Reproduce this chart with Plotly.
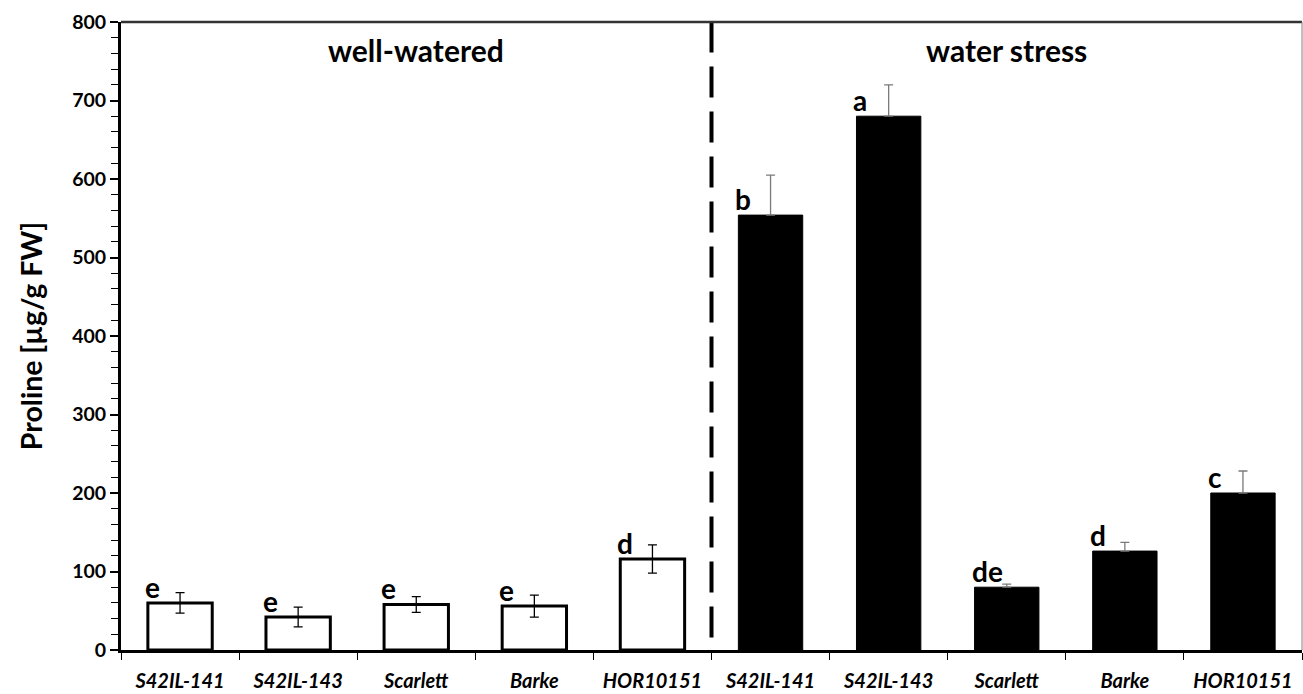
import plotly.graph_objects as go

# Genotypes shown under each treatment
genotypes = ["S42IL-141", "S42IL-143", "Scarlett", "Barke", "HOR10151"]

# Proline content [µg/g FW], mean and error
well_watered = [60, 42, 58, 56, 116]
well_watered_err = [13, 12.5, 10, 14, 18]
water_stress = [554, 680, 80, 126, 200]
water_stress_err = [51, 40, 4, 11, 28]

# Significance letters
well_watered_letters = ["e", "e", "e", "e", "d"]
water_stress_letters = ["b", "a", "de", "d", "c"]

section_titles = ["well-watered", "water stress"]
y_ticks = [0, 100, 200, 300, 400, 500, 600, 700, 800]

FONT = "Lato"
BAR_W = 0.545

n = len(genotypes)
x_ww = list(range(n))
x_ws = list(range(n, 2 * n))

fig = go.Figure()

fig.add_trace(go.Bar(
    x=x_ww, y=well_watered, width=BAR_W,
    marker=dict(color="white", line=dict(color="black", width=3)),
    error_y=dict(type="data", array=well_watered_err, color="black",
                 thickness=1.3, width=4.5),
    showlegend=False,
))
fig.add_trace(go.Bar(
    x=x_ws, y=water_stress, width=BAR_W,
    marker=dict(color="black", line=dict(color="black", width=1)),
    error_y=dict(type="data", array=water_stress_err,
                 arrayminus=[0] * n, symmetric=False, color="#7a7a7a",
                 thickness=1.3, width=4.5),
    showlegend=False,
))

# Letters sitting on top of each bar, left-aligned with the bar edge
annotations = []
for xs, vals, letters in ((x_ww, well_watered, well_watered_letters),
                          (x_ws, water_stress, water_stress_letters)):
    for xv, v, lab in zip(xs, vals, letters):
        annotations.append(dict(
            x=xv - BAR_W / 2, y=v, text=f"<b>{lab}</b>", showarrow=False,
            xanchor="left", yanchor="bottom", yshift=-3, xshift=-5,
            font=dict(family=FONT, size=28, color="black"),
        ))

# Treatment headers
for xc, title in zip((2, 7), section_titles):
    annotations.append(dict(
        x=xc, y=764, text=f"<b>{title}</b>", showarrow=False,
        xanchor="center", yanchor="middle",
        font=dict(family=FONT, size=30, color="black"),
    ))

shapes = [
    # dashed separator between treatments
    dict(type="line", xref="x", yref="paper", x0=n - 0.5, x1=n - 0.5,
         y0=0.02, y1=1, line=dict(color="black", width=4, dash="31px,14px")),
    # frame: top and right edges
    dict(type="line", xref="paper", yref="paper", x0=0, x1=1, y0=1, y1=1,
         line=dict(color="#333333", width=2.5)),
    dict(type="line", xref="paper", yref="paper", x0=1, x1=1, y0=0, y1=1,
         line=dict(color="#808080", width=1)),
]

fig.update_layout(
    width=1303, height=694,
    margin=dict(l=121, r=1, t=22, b=44),
    plot_bgcolor="white", paper_bgcolor="white",
    barmode="overlay",
    annotations=annotations,
    shapes=shapes,
    font=dict(family=FONT, color="black"),
)

fig.update_xaxes(
    range=[-0.5, 2 * n - 0.5],
    tickmode="array", tickvals=x_ww + x_ws,
    ticktext=[f"<b><i>{g}</i></b>" for g in genotypes * 2],
    ticks="", ticklabelstandoff=11,
    tickfont=dict(family=FONT, size=20, color="black"),
    showline=True, linecolor="black", linewidth=2.5,
    showgrid=False, zeroline=False,
    minor=dict(tickmode="array",
               tickvals=[i - 0.5 for i in range(2 * n + 1)],
               ticks="outside", ticklen=7, tickcolor="black", tickwidth=1,
               showgrid=False),
)

fig.update_yaxes(
    range=[0, 800],
    tickmode="array", tickvals=y_ticks,
    ticktext=[f"<b>{t}</b>" for t in y_ticks],
    ticks="outside", ticklen=8, tickcolor="black", tickwidth=1.5,
    tickfont=dict(family=FONT, size=19.5, color="black"),
    showline=True, linecolor="black", linewidth=3,
    showgrid=False, zeroline=False,
    minor=dict(dtick=20, tick0=0, ticks="outside", ticklen=7,
               tickcolor="black", tickwidth=1, showgrid=False),
    title=dict(text="<b>Proline [µg/g FW]</b>",
               font=dict(family=FONT, size=28.5, color="black"), standoff=22),
)

fig.write_html("out.html")
